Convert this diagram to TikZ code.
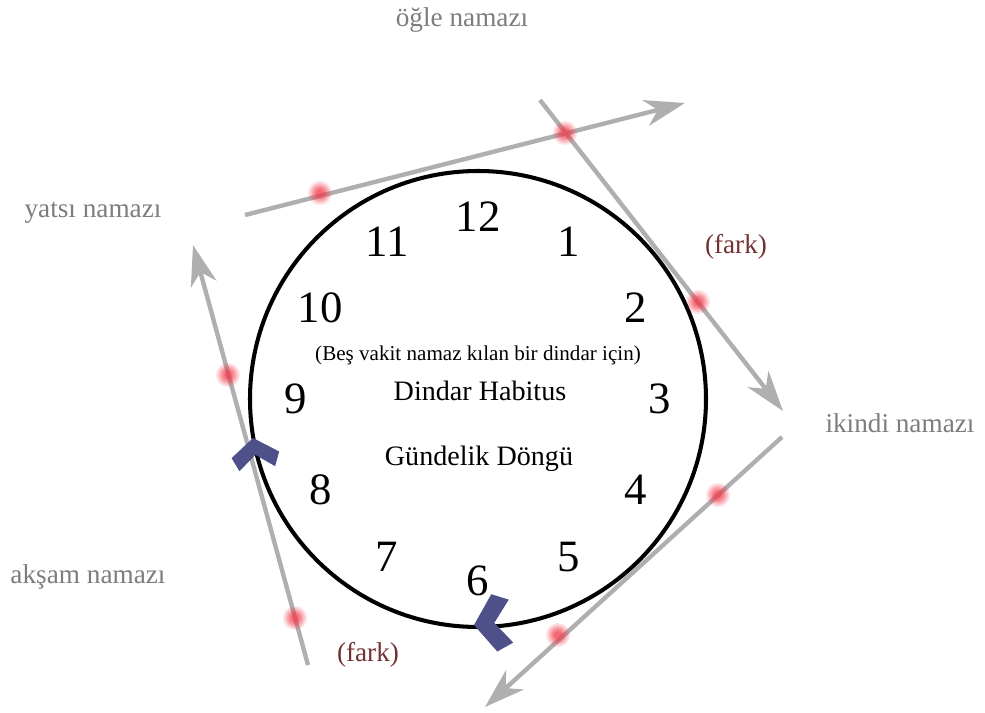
\documentclass[tikz,border=0pt]{standalone}
\usepackage{fontspec}
\setmainfont{Liberation Serif}
\usetikzlibrary{arrows.meta, calc}
\definecolor{cLine}{RGB}{175,175,175}
\definecolor{cLabel}{RGB}{125,125,125}
\definecolor{cFark}{RGB}{115,50,50}
\definecolor{cChevron}{RGB}{78,80,138}
\definecolor{cDot}{RGB}{240,60,75}

\begin{document}
\begin{tikzpicture}[
    x=0.02cm,
    y=-0.02cm,
    tangent/.style={draw=cLine, line width=2.5pt, -{Stealth[length=23pt, width=15pt, inset=7pt]}},
    hour/.style={font=\fontsize{25.5}{30}\selectfont},
    vakit/.style={text=cLabel, font=\fontsize{15.5}{18}\selectfont},
    fark/.style={text=cFark, font=\fontsize{15.5}{18}\selectfont}
]

    % --- Makros: Punkt und Pfeilspitze ---
    \newcommand{\vakitDot}[1]{
        \foreach \r/\o in {12/0.15, 10/0.2, 8/0.25, 6/0.3, 4/0.35}{
            \fill[cDot, fill opacity=\o] (#1) circle (\r);
        }
    }
    \newcommand{\donguChevron}[3]{
        \fill[cChevron, shift={(#1)}, rotate=#2, scale=#3] (0,0) -- (24,17) -- (18,31) -- (0,17) -- (-18,31) -- (-24,17) -- cycle;
    }

    \useasboundingbox (0,0) rectangle (985,713);

    % Uhr
    \coordinate (center) at (478,399);
    \draw[line width=2.3pt] (center) circle (228);

    % Ziffern
    \foreach \h in {1,...,12}{
        \node[hour] (hour\h) at ($(center)+(30*\h-90:182)$) {\h};
    }

    % Texte in der Mitte
    \node[font=\fontsize{12}{14}\selectfont] (besvakit) at (478,355) {(Beş vakit namaz kılan bir dindar için)};
    \node[font=\fontsize{16}{19}\selectfont] (habitus) at (480,391) {Dindar Habitus};
    \node[font=\fontsize{16}{19}\selectfont] (dongu) at (479,459) {Gündelik Döngü};

    % --- Tangenten ---
    \coordinate (topS) at (245,215);
    \coordinate (topE) at (685,103);
    \coordinate (rightS) at (540,100);
    \coordinate (rightE) at (783,411);
    \coordinate (lowS) at (782,437);
    \coordinate (lowE) at (485,707);
    \coordinate (leftS) at (308,665);
    \coordinate (leftE) at (193,245);

    \draw[tangent] (topS) -- (topE);
    \draw[tangent] (rightS) -- (rightE);
    \draw[tangent] (lowS) -- (lowE);
    \draw[tangent] (leftS) -- (leftE);

    % Punkte
    \vakitDot{320,193}
    \vakitDot{565,133}
    \vakitDot{698,302}
    \vakitDot{718,495}
    \vakitDot{558,635}
    \vakitDot{228,375}
    \vakitDot{295,618}

    % Pfeilspitzen auf dem Kreis
    \coordinate (chevLeft) at (253,438);
    \coordinate (chevLow) at (474,625);
    \donguChevron{chevLeft}{8}{1}
    \donguChevron{chevLow}{96}{1.2}

    % --- Namaz-Beschriftungen ---
    \node[vakit] (ogle) at (462,20) {öğle namazı};
    \node[vakit] (yatsi) at (93,213) {yatsı namazı};
    \node[vakit] (ikindi) at (900,423) {ikindi namazı};
    \node[vakit] (aksam) at (88,577) {akşam namazı};
    \node[fark] (fark1) at (736,247) {(fark)};
    \node[fark] (fark2) at (368,655) {(fark)};

\end{tikzpicture}
\end{document}
